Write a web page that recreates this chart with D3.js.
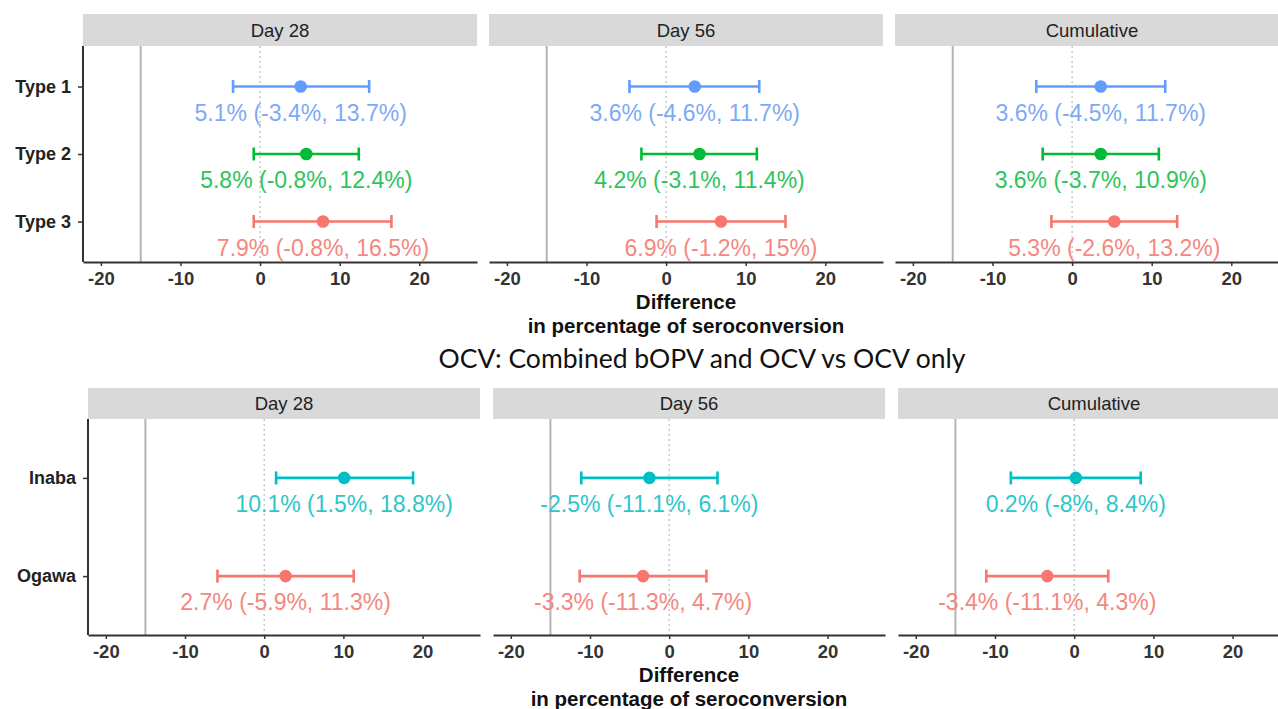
<!DOCTYPE html>
<html>
<head>
<meta charset="utf-8">
<script src="https://cdn.jsdelivr.net/npm/d3@7"></script>
<style>
  body { margin: 0; background: #fff; }
</style>
</head>
<body>
<div id="canvas"></div>
<script>
const canvas = d3.select("#canvas");

// Datos: panels and categories
const periods = ["Day 28", "Day 56", "Cumulative"];
const typeCats = ["Type 1", "Type 2", "Type 3"];
const serotypeCats = ["Inaba", "Ogawa"];
const xTicks = [-20, -10, 0, 10, 20];
const refLine = -15;

// top: bOPV polio types, [estimate, lower, upper] per period
const typeEst = {
  "Day 28":     [5.1, 5.8, 7.9],
  "Day 56":     [3.6, 4.2, 6.9],
  "Cumulative": [3.6, 3.6, 5.3]
};
const typeLow = {
  "Day 28":     [-3.4, -0.8, -0.8],
  "Day 56":     [-4.6, -3.1, -1.2],
  "Cumulative": [-4.5, -3.7, -2.6]
};
const typeHigh = {
  "Day 28":     [13.7, 12.4, 16.5],
  "Day 56":     [11.7, 11.4, 15],
  "Cumulative": [11.7, 10.9, 13.2]
};

// bottom: OCV serotypes
const seroEst = {
  "Day 28":     [10.1, 2.7],
  "Day 56":     [-2.5, -3.3],
  "Cumulative": [0.2, -3.4]
};
const seroLow = {
  "Day 28":     [1.5, -5.9],
  "Day 56":     [-11.1, -11.3],
  "Cumulative": [-8, -11.1]
};
const seroHigh = {
  "Day 28":     [18.8, 11.3],
  "Day 56":     [6.1, 4.7],
  "Cumulative": [8.4, 4.3]
};

const typeColors = ["#619CFF", "#00BA38", "#F8766D"];
const typeTextColors = ["#7ea9f7", "#2cc45a", "#f5877f"];
const seroColors = ["#00BFC4", "#F8766D"];
const seroTextColors = ["#2ec6ca", "#f5877f"];

const FONT = "Liberation Sans";

const width = 1278;
const height = 709;

const svg = canvas.append("svg")
  .attr("width", width)
  .attr("height", height);

svg.append("rect").attr("width", width).attr("height", height).attr("fill", "#fff");

function drawRow(cfg) {
  const { cats, est, low, high, colors, textColors, left, top, stripH, plotH, panelW, gap } = cfg;

  const y = d3.scalePoint()
    .domain(cats)
    .range([top + stripH, top + stripH + plotH])
    .padding(0.6);

  periods.forEach((p, i) => {
    const x0 = left + i * (panelW + gap);
    const x = d3.scaleLinear().domain([-22.25, 27.25]).range([x0, x0 + panelW]);

    const g = svg.append("g");

    // strip
    g.append("rect")
      .attr("x", x0).attr("y", top)
      .attr("width", panelW).attr("height", stripH)
      .attr("fill", "#d9d9d9");
    g.append("text")
      .attr("x", x0 + panelW / 2)
      .attr("y", top + stripH / 2)
      .attr("dy", "0.36em")
      .attr("text-anchor", "middle")
      .attr("font-family", FONT)
      .attr("font-size", 18.5)
      .attr("fill", "#222")
      .text(p);

    const yTop = top + stripH;
    const yBot = top + stripH + plotH;

    // reference line and zero line
    g.append("line")
      .attr("x1", x(refLine)).attr("x2", x(refLine))
      .attr("y1", yTop).attr("y2", yBot)
      .attr("stroke", "#b3b3b3").attr("stroke-width", 2);
    g.append("line")
      .attr("x1", x(0)).attr("x2", x(0))
      .attr("y1", yTop).attr("y2", yBot)
      .attr("stroke", "#bbb").attr("stroke-width", 1.2)
      .attr("stroke-dasharray", "2,3");

    const rows = cats.map((c, k) => ({
      cat: c, est: est[p][k], low: low[p][k], high: high[p][k],
      color: colors[k], tcolor: textColors[k]
    }));

    const r = g.selectAll("g.row").data(rows).enter().append("g").attr("class", "row");

    r.append("line")
      .attr("x1", d => x(d.low)).attr("x2", d => x(d.high))
      .attr("y1", d => y(d.cat)).attr("y2", d => y(d.cat))
      .attr("stroke", d => d.color).attr("stroke-width", 2.6);
    r.append("line")
      .attr("x1", d => x(d.low)).attr("x2", d => x(d.low))
      .attr("y1", d => y(d.cat) - 6.5).attr("y2", d => y(d.cat) + 6.5)
      .attr("stroke", d => d.color).attr("stroke-width", 2.6);
    r.append("line")
      .attr("x1", d => x(d.high)).attr("x2", d => x(d.high))
      .attr("y1", d => y(d.cat) - 6.5).attr("y2", d => y(d.cat) + 6.5)
      .attr("stroke", d => d.color).attr("stroke-width", 2.6);
    r.append("circle")
      .attr("cx", d => x(d.est)).attr("cy", d => y(d.cat))
      .attr("r", 6.3)
      .attr("fill", d => d.color);
    r.append("text")
      .attr("x", d => x(d.est))
      .attr("y", d => y(d.cat) + 26)
      .attr("dy", "0.36em")
      .attr("text-anchor", "middle")
      .attr("font-family", FONT)
      .attr("font-size", 23)
      .attr("fill", d => d.tcolor)
      .text(d => `${d.est}% (${d.low}%, ${d.high}%)`);

    // x axis
    const ax = g.append("g")
      .attr("transform", `translate(0,${yBot})`)
      .call(d3.axisBottom(x).tickValues(xTicks).tickFormat(d => String(d))
        .tickSize(4).tickSizeOuter(0).tickPadding(6));
    ax.select(".domain").attr("stroke", "#333").attr("stroke-width", 2);
    ax.selectAll(".tick line").attr("stroke", "#333").attr("stroke-width", 1.5);
    ax.selectAll(".tick text")
      .attr("font-family", FONT).attr("font-size", 18.5).attr("font-weight", "bold").attr("fill", "#333");

    // y axis only on first panel
    if (i === 0) {
      const ay = g.append("g")
        .attr("transform", `translate(${x0},0)`)
        .call(d3.axisLeft(y).tickSize(5).tickSizeOuter(0).tickPadding(7));
      ay.select(".domain").attr("stroke", "#333").attr("stroke-width", 2)
        .attr("d", `M0,${yTop}V${yBot}`);
      ay.selectAll(".tick line").attr("stroke", "#333").attr("stroke-width", 1.5);
      ay.selectAll(".tick text")
        .attr("font-family", FONT).attr("font-size", 18).attr("font-weight", "bold").attr("fill", "#222");
    }
  });

  // axis title, two lines
  const cx = left + (3 * panelW + 2 * gap) / 2;
  const titleLines = ["Difference", "in percentage of seroconversion"];
  svg.selectAll(null).data(titleLines).enter().append("text")
    .attr("x", cx)
    .attr("y", (d, k) => top + stripH + plotH + 47 + k * 23.5)
    .attr("text-anchor", "middle")
    .attr("font-family", FONT)
    .attr("font-size", 20.5)
    .attr("font-weight", "bold")
    .attr("fill", "#111")
    .text(d => d);
}

drawRow({
  cats: typeCats, est: typeEst, low: typeLow, high: typeHigh,
  colors: typeColors, textColors: typeTextColors,
  left: 83, top: 14, stripH: 32, plotH: 216, panelW: 394, gap: 12
});

svg.append("text")
  .attr("x", 702)
  .attr("y", 368)
  .attr("text-anchor", "middle")
  .attr("font-family", "Lato")
  .attr("font-size", 26.5)
  .attr("fill", "#111")
  .text("OCV: Combined bOPV and OCV vs OCV only");

drawRow({
  cats: serotypeCats, est: seroEst, low: seroLow, high: seroHigh,
  colors: seroColors, textColors: seroTextColors,
  left: 88, top: 388, stripH: 31, plotH: 216, panelW: 392, gap: 13
});
</script>
</body>
</html>
